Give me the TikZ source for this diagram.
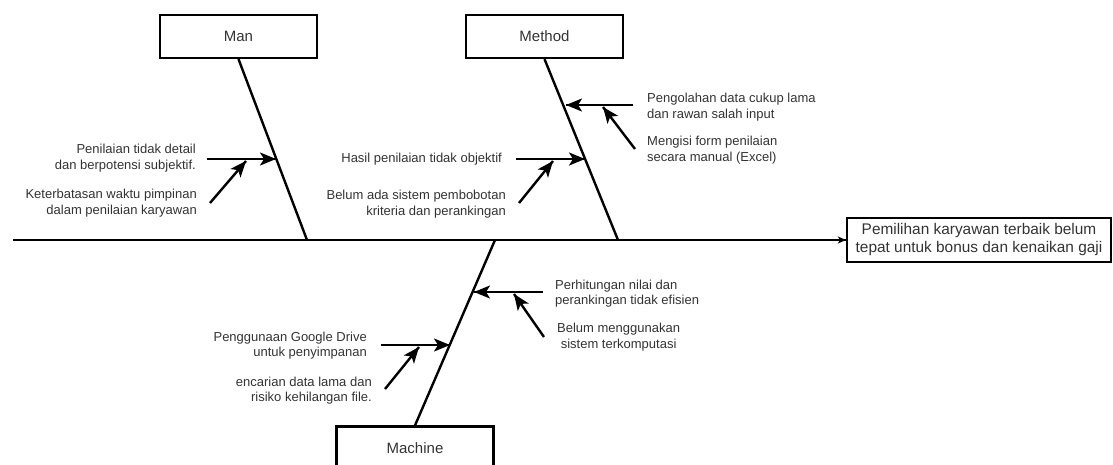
\documentclass[tikz,border=0pt]{standalone}
\usepackage{fontspec}
\setmainfont{Liberation Sans}
\usepackage{xcolor}
\usepackage{tikz}
\usetikzlibrary{arrows.meta,decorations.markings}
\definecolor{labelgray}{HTML}{333333}
\tikzstyle {cat node} = [rectangle, draw, line width=2.2pt, minimum width=157pt, minimum height=43pt, font=\fontsize{15}{18}\selectfont, text=labelgray]
\tikzstyle {effect node} = [rectangle, draw, line width=2.2pt, minimum width=264pt, minimum height=44pt, align=center, inner sep=0pt, font=\fontsize{15.4}{18}\selectfont, text=labelgray]
\tikzstyle {cause node} = [inner sep=0pt, font=\fontsize{13}{15.5}\selectfont, text=labelgray]
\tikzset{bone/.style = {line width=2.4pt}}
\tikzset{edge/.style = {line width=2.4pt, decoration={markings,mark=at position 1 with %
            {\arrow{Stealth[length=16pt,width=13pt,inset=4pt]}}},postaction={decorate}}}
\tikzset{spine/.style = {line width=2.4pt, decoration={markings,mark=at position 1 with %
            {\arrow{Stealth[length=8pt,width=7pt,inset=2pt]}}},postaction={decorate}}}

\begin{document}
\begin{tikzpicture}[x=1pt, y=-1pt]
            \useasboundingbox (0, 0) rectangle (1113, 464);
            \clip (0, 0) rectangle (1113, 464);
            % categories and effect
            \node[cat node] (man) at (238.5, 36.5) {Man};
            \node[cat node] (method) at (544.5, 36.5) {Method};
            \node[cat node] (machine) at (415, 448) {Machine};
            \node[effect node] (effect) at (979, 240) {Pemilihan karyawan terbaik belum\\tepat untuk bonus dan kenaikan gaji};
            % spine and bones
            \coordinate (tail) at (13, 240);
            \coordinate (j1) at (307, 240);
            \coordinate (j2) at (618, 240);
            \coordinate (j3) at (495, 240);
            \draw[spine] (tail) -- (effect);
            \draw[bone] (man.south) -- (j1);
            \draw[bone] (method.south) -- (j2);
            \draw[bone] (machine.north) -- (j3);
            % man
            \node[cause node, anchor=east, align=right] (t1) at (196, 158) {Penilaian tidak detail\\dan berpotensi subjektif.};
            \node[cause node, anchor=east, align=right] (t2) at (197, 203) {Keterbatasan waktu pimpinan\\dalam penilaian karyawan};
            \coordinate (a1) at (207, 159);
            \coordinate (b1) at (276, 159);
            \coordinate (a2) at (210, 203);
            \coordinate (b2) at (246, 161);
            \draw[edge] (a1) -- (b1);
            \draw[edge] (a2) -- (b2);
            % method
            \node[cause node, anchor=east] (t3) at (502, 159) {Hasil penilaian tidak objektif};
            \node[cause node, anchor=east, align=right] (t4) at (506, 204) {Belum ada sistem pembobotan\\kriteria dan perankingan};
            \node[cause node, anchor=west, align=left] (t5) at (647, 107) {Pengolahan data cukup lama\\dan rawan salah input};
            \node[cause node, anchor=west, align=left] (t6) at (647, 150) {Mengisi form penilaian\\secara manual (Excel)};
            \coordinate (a3) at (516, 159);
            \coordinate (b3) at (585, 159);
            \coordinate (a4) at (519, 203);
            \coordinate (b4) at (553, 161);
            \coordinate (a5) at (633, 105);
            \coordinate (b5) at (566, 105);
            \coordinate (a6) at (635, 149);
            \coordinate (b6) at (603, 107);
            \draw[edge] (a3) -- (b3);
            \draw[edge] (a4) -- (b4);
            \draw[edge] (a5) -- (b5);
            \draw[edge] (a6) -- (b6);
            % machine
            \node[cause node, anchor=west, align=left] (t7) at (555, 293.5) {Perhitungan nilai dan\\perankingan tidak efisien};
            \node[cause node, anchor=west, align=center] (t8) at (557, 337) {Belum menggunakan\\sistem terkomputasi};
            \node[cause node, anchor=east, align=right] (t9) at (367, 345.5) {Penggunaan Google Drive\\untuk penyimpanan};
            \node[cause node, anchor=east, align=right] (t10) at (372, 390.5) {encarian data lama dan\\risiko kehilangan file.};
            \coordinate (a7) at (543, 292);
            \coordinate (b7) at (474, 292);
            \coordinate (a8) at (544, 337);
            \coordinate (b8) at (514, 294);
            \coordinate (a9) at (381, 345);
            \coordinate (b9) at (450, 345);
            \coordinate (a10) at (385, 389);
            \coordinate (b10) at (419, 347);
            \draw[edge] (a7) -- (b7);
            \draw[edge] (a8) -- (b8);
            \draw[edge] (a9) -- (b9);
            \draw[edge] (a10) -- (b10);
        \end{tikzpicture}
\end{document}
